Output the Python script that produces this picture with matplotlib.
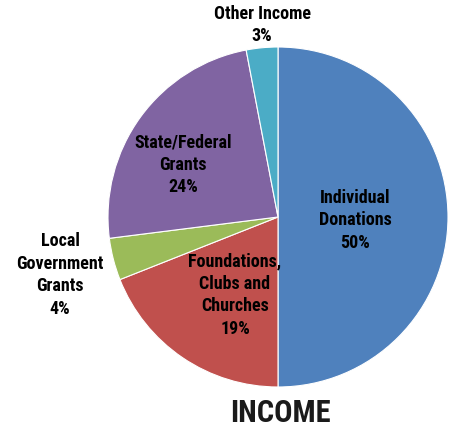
import matplotlib
matplotlib.use("Agg")
import matplotlib.pyplot as plt

labels = ["Individual\nDonations", "Foundations,\nClubs and\nChurches", "Local\nGovernment\nGrants", "State/Federal\nGrants", "Other Income"]
values = [50, 19, 4, 24, 3]
colors = ["#4F81BD", "#C0504D", "#9BBB59", "#8064A2", "#4BACC6"]
title = "INCOME"

fam = ["Roboto Condensed", "DejaVu Sans"]

fig = plt.figure(figsize=(4.53, 4.27), dpi=100)
ax = fig.add_axes([108/453, 39/427, 340/453, 340/427])
ax.pie(values, colors=colors, startangle=90, counterclock=False,
       wedgeprops=dict(edgecolor="white", linewidth=0.8))
ax.set_xlim(-1, 1)
ax.set_ylim(-1, 1)
ax.set_aspect("equal")
ax.axis("off")

pos = [(0.453, -0.012), (-0.253, -0.453), (-1.282, -0.335), (-0.559, 0.312), (-0.094, 1.135)]
for lab, v, (x, y) in zip(labels, values, pos):
    txt = f"{lab}\n{v}%"
    ax.text(x, y, txt, ha="center", va="center", fontsize=13, fontweight="bold",
            family=fam, color="black", linespacing=1.32, clip_on=False)

ax.text(0.012, -1.15, title, ha="center", va="center", fontsize=22, fontweight="bold",
        family=fam, color="#1a1a1a", clip_on=False)

fig.savefig("out.png", dpi=100)
